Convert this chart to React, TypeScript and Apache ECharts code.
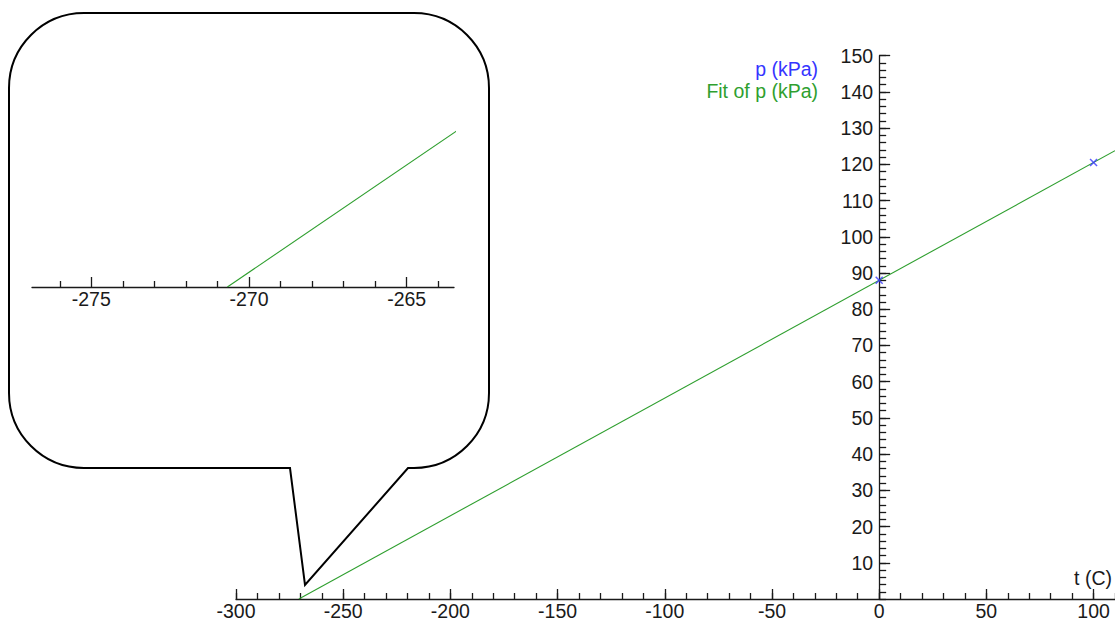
import React, { useEffect, useRef } from "react";
import * as echarts from "echarts";

// ---- data ----
const measuredT = [0, 100];
const measuredP = [88.0, 120.5];
const fitSlope = 0.3251; // kPa per C
const fitP0 = 88.0; // kPa at 0 C
const mainXRange = [-300, 110];
const mainYRange = [0, 150];
const mainXMajor = [-300, -250, -200, -150, -100, -50, 0, 50, 100];
const insetXRange = [-276.88, -263.5];
const insetXMajor = [-275, -270, -265];
const insetXMinor = [-276, -274, -273, -272, -271, -269, -268, -267, -266, -264];
const legendNames = ["p (kPa)", "Fit of p (kPa)"];
const xAxisTitle = "t (C)";

const FONT = "Liberation Sans, Arial, sans-serif";
const FS = 19.5;
const AXIS = "#1a1a1a";
const BLUE = "#3535ff";
const GREEN = "#2f9f2f";

const GRID_LEFT = 236;
const GRID_W = 879;

const calloutPath =
  "M84,13 L414,13 A75,75 0 0 1 489,88 L489,393 A75,75 0 0 1 414,468 L408,468 L305,585 L290,468 L84,468 A75,75 0 0 1 9,393 L9,88 A75,75 0 0 1 84,13 Z";

export default function App() {
  const ref = useRef<HTMLDivElement>(null);
  useEffect(() => {
    if (!ref.current) return;
    try {
      echarts.graphic.registerShape("callout", echarts.graphic.extendPath(calloutPath, {}));
    } catch (e) {}
    const chart = echarts.init(ref.current, null, { renderer: "svg" });

    const fitT0 = -fitP0 / fitSlope;
    const fitT1 = mainXRange[1];
    const fitData = [
      [fitT0, 0],
      [fitT1, fitP0 + fitSlope * fitT1],
    ];
    const points = measuredT.map((t, i) => [t, measuredP[i]]);

    // y axis sits at t = 0: shift it inward from the grid's left edge
    const zeroOffset = -((0 - mainXRange[0]) / (mainXRange[1] - mainXRange[0])) * GRID_W;

    const labelStyle = { color: AXIS, fontSize: FS, fontFamily: FONT };

    const option: any = {
      animation: false,
      backgroundColor: "#ffffff",
      grid: [
        { left: GRID_LEFT, right: 1115 - GRID_LEFT - GRID_W, top: 55.7, bottom: 21, containLabel: false, outerBoundsMode: "none" },
        { left: 32, right: 661, top: 89, bottom: 333, containLabel: false, outerBoundsMode: "none" },
      ],
      xAxis: [
        {
          type: "value",
          gridIndex: 0,
          position: "bottom",
          min: mainXRange[0],
          max: mainXRange[1],
          interval: 50,
          axisLine: { show: true, onZero: false, lineStyle: { color: AXIS, width: 1.3 } },
          axisTick: { show: true, inside: true, length: 10, customValues: mainXMajor, lineStyle: { color: AXIS, width: 1.3 } },
          axisLabel: { show: true, margin: 2, customValues: mainXMajor, ...labelStyle },
          splitLine: { show: false },
        },
        {
          type: "value",
          gridIndex: 0,
          position: "bottom",
          min: mainXRange[0],
          max: mainXRange[1],
          interval: 10,
          axisLine: { show: false, onZero: false },
          axisTick: { show: true, inside: true, length: 6, lineStyle: { color: AXIS, width: 1.3 } },
          axisLabel: { show: false },
          splitLine: { show: false },
        },
        {
          type: "value",
          gridIndex: 1,
          position: "bottom",
          min: insetXRange[0],
          max: insetXRange[1],
          axisLine: { show: true, onZero: false, lineStyle: { color: AXIS, width: 1.3 } },
          axisTick: { show: true, inside: true, length: 10, customValues: insetXMajor, lineStyle: { color: AXIS, width: 1.3 } },
          axisLabel: { show: true, margin: 2, customValues: insetXMajor, ...labelStyle },
          splitLine: { show: false },
        },
        {
          type: "value",
          gridIndex: 1,
          position: "bottom",
          min: insetXRange[0],
          max: insetXRange[1],
          axisLine: { show: false, onZero: false },
          axisTick: { show: true, inside: true, length: 6, customValues: insetXMinor, lineStyle: { color: AXIS, width: 1.3 } },
          axisLabel: { show: false },
          splitLine: { show: false },
        },
      ],
      yAxis: [
        {
          type: "value",
          gridIndex: 0,
          position: "left",
          offset: zeroOffset,
          min: mainYRange[0],
          max: mainYRange[1],
          interval: 10,
          axisLine: { show: true, onZero: false, lineStyle: { color: AXIS, width: 1.3 } },
          axisTick: { show: true, inside: true, length: 11, lineStyle: { color: AXIS, width: 1.3 } },
          axisLabel: { show: true, margin: 6, showMinLabel: false, ...labelStyle },
          splitLine: { show: false },
        },
        {
          type: "value",
          gridIndex: 0,
          position: "left",
          offset: zeroOffset,
          min: mainYRange[0],
          max: mainYRange[1],
          interval: 2,
          axisLine: { show: false, onZero: false },
          axisTick: { show: true, inside: true, length: 7, lineStyle: { color: AXIS, width: 1.3 } },
          axisLabel: { show: false },
          splitLine: { show: false },
        },
        {
          type: "value",
          gridIndex: 1,
          min: 0,
          max: 3,
          show: false,
        },
      ],
      series: [
        {
          name: legendNames[1],
          type: "line",
          xAxisIndex: 0,
          yAxisIndex: 0,
          data: fitData,
          symbol: "none",
          clip: true,
          lineStyle: { color: GREEN, width: 1.1 },
          z: 3,
        },
        {
          name: legendNames[0],
          type: "scatter",
          xAxisIndex: 0,
          yAxisIndex: 0,
          data: points,
          symbol: "path://M0,0L10,10M10,0L0,10",
          symbolSize: 7,
          itemStyle: { color: "none", borderColor: BLUE, borderWidth: 1.5 },
          z: 4,
        },
        {
          name: legendNames[1] + " (inset)",
          type: "line",
          xAxisIndex: 2,
          yAxisIndex: 2,
          data: fitData,
          symbol: "none",
          clip: true,
          lineStyle: { color: GREEN, width: 1.1 },
          z: 3,
        },
      ],
      graphic: [
        {
          type: "callout",
          x: 0,
          y: 0,
          z: -10,
          silent: true,
          style: { fill: "none", stroke: "#000", lineWidth: 2 },
        },
        {
          type: "text",
          x: 818,
          y: 69,
          style: { text: legendNames[0], fill: BLUE, font: `${FS}px ${FONT}`, textAlign: "right", textVerticalAlign: "middle" },
        },
        {
          type: "text",
          x: 818,
          y: 91,
          style: { text: legendNames[1], fill: GREEN, font: `${FS}px ${FONT}`, textAlign: "right", textVerticalAlign: "middle" },
        },
        {
          type: "text",
          x: 1112,
          y: 578,
          style: { text: xAxisTitle, fill: AXIS, font: `${FS}px ${FONT}`, textAlign: "right", textVerticalAlign: "middle" },
        },
      ],
    };
    chart.setOption(option);
    return () => chart.dispose();
  }, []);
  return (
    <div
      ref={ref}
      style={{ position: "absolute", left: 0, top: 0, width: 1115, height: 620, background: "#fff" }}
    />
  );
}
